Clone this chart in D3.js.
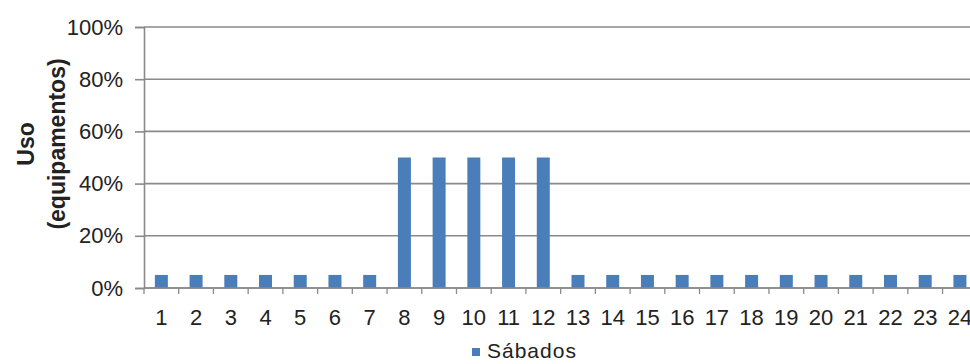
<!DOCTYPE html>
<html>
<head>
<meta charset="utf-8">
<script src="https://cdn.jsdelivr.net/npm/d3@7"></script>
<style>
  html, body { margin: 0; padding: 0; background: #fff; }
  svg { display: block; font-family: "Liberation Sans", Arial, sans-serif; }
</style>
</head>
<body>
<svg id="chart" width="970" height="364"></svg>
<script>
// Hourly equipment usage on Saturdays
const hours = ["1","2","3","4","5","6","7","8","9","10","11","12","13","14","15","16","17","18","19","20","21","22","23","24"];
const sabados = [0.05,0.05,0.05,0.05,0.05,0.05,0.05,0.5,0.5,0.5,0.5,0.5,0.05,0.05,0.05,0.05,0.05,0.05,0.05,0.05,0.05,0.05,0.05,0.05];
const yTicks = [0, 0.2, 0.4, 0.6, 0.8, 1.0];
const seriesName = "Sábados";
const yTitleLines = ["Uso", "(equipamentos)"];

const svg = d3.select("#chart");
const margin = { left: 144, top: 27, bottom: 288 };
const bandW = 34.72;
const x = d3.scaleBand().domain(hours).range([margin.left, margin.left + bandW * hours.length]).paddingInner(0).paddingOuter(0);
const y = d3.scaleLinear().domain([0, 1]).range([margin.bottom, margin.top]);

const gridColor = "#8a8a8a";
const barColor = "#4a7ebb";
const textColor = "#222";
const fontSize = "22px";

// horizontal gridlines
svg.append("g").selectAll("line").data(yTicks).join("line")
  .attr("x1", margin.left).attr("x2", 970)
  .attr("y1", d => y(d)).attr("y2", d => y(d))
  .attr("stroke", gridColor).attr("stroke-width", 1.6);

// y axis
const yAxis = d3.axisLeft(y).tickValues(yTicks).tickFormat(d3.format(".0%")).tickSize(9).tickPadding(12);
const gy = svg.append("g").attr("transform", `translate(${margin.left},0)`).call(yAxis);
gy.select(".domain").attr("stroke", gridColor).attr("stroke-width", 1.6);
gy.selectAll(".tick line").attr("stroke", gridColor).attr("stroke-width", 1.6);
gy.selectAll(".tick text").attr("fill", textColor).style("font-size", fontSize)
  .attr("font-family", "Liberation Sans, Arial, sans-serif");

// bars
const barW = 13;
svg.append("g").selectAll("rect").data(sabados).join("rect")
  .attr("x", (d, i) => x(hours[i]) + x.bandwidth() / 2 - barW / 2)
  .attr("width", barW)
  .attr("y", d => y(d))
  .attr("height", d => y(0) - y(d))
  .attr("fill", barColor);

// x axis with ticks at category boundaries
const gx = svg.append("g").attr("transform", `translate(0,${margin.bottom})`);
gx.append("line").attr("x1", margin.left).attr("x2", 970).attr("stroke", gridColor).attr("stroke-width", 1.6);
const bounds = d3.range(hours.length + 1).map(i => margin.left + i * x.bandwidth());
gx.selectAll("line.tk").data(bounds).join("line").attr("class", "tk")
  .attr("x1", d => d).attr("x2", d => d).attr("y1", 0).attr("y2", 6)
  .attr("stroke", gridColor).attr("stroke-width", 1.3);
gx.selectAll("text").data(hours).join("text")
  .attr("x", d => x(d) + x.bandwidth() / 2)
  .attr("y", 37)
  .attr("text-anchor", "middle")
  .attr("fill", textColor)
  .style("font-size", fontSize)
  .text(d => d);

// y axis title, two rotated lines
const yTitle = svg.append("text")
  .attr("transform", "translate(34,144) rotate(-90)")
  .attr("text-anchor", "middle")
  .attr("font-weight", "bold")
  .attr("fill", textColor)
  .style("font-size", "23px");
yTitle.selectAll("tspan").data(yTitleLines).join("tspan")
  .attr("x", 0).attr("dy", (d, i) => i === 0 ? 0 : 31).text(d => d);

// legend
const lg = svg.append("g").attr("transform", "translate(472,348)");
lg.append("rect").attr("x", 0).attr("y", 0).attr("width", 8).attr("height", 8).attr("fill", barColor);
lg.append("text").attr("x", 15).attr("y", 10).attr("fill", textColor)
  .style("font-size", "21px").style("letter-spacing", "1px").text(seriesName);
</script>
</body>
</html>
